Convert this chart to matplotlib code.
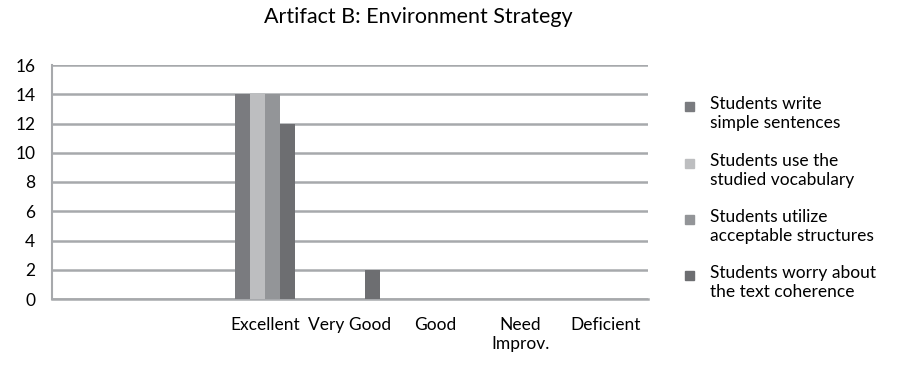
import matplotlib
matplotlib.use("Agg")
import matplotlib.pyplot as plt
from matplotlib.patches import Rectangle
import numpy as np

categories = ["", "", "Excellent", "Very Good", "Good", "Need\nImprov.", "Deficient"]
series_names = ["Students write\nsimple sentences",
                "Students use the\nstudied vocabulary",
                "Students utilize\nacceptable structures",
                "Students worry about\nthe text coherence"]
write_simple = [0, 0, 14, 0, 0, 0, 0]
use_vocab = [0, 0, 14, 0, 0, 0, 0]
utilize_struct = [0, 0, 14, 0, 0, 0, 0]
worry_coherence = [0, 0, 12, 2, 0, 0, 0]
yticks = [0, 2, 4, 6, 8, 10, 12, 14, 16]

colors = ["#7a7b7f", "#bdbec0", "#939598", "#6d6e71"]
plt.rcParams['font.family'] = ['Lato', 'DejaVu Sans']

W, H = 899, 374
fig = plt.figure(figsize=(8.99, 3.74), dpi=100)
ax = fig.add_axes([52/W, 1-299/H, 596/W, 234/H])

x = np.arange(len(categories))
bw = 0.176
data = [write_simple, use_vocab, utilize_struct, worry_coherence]
for i, (vals, c, n) in enumerate(zip(data, colors, series_names)):
    ax.bar(x + (i - 1.5) * bw, vals, width=bw, color=c, label=n, zorder=3)

ax.set_xlim(-0.5, len(categories) - 0.5)
ax.set_ylim(0, 16)
ax.set_yticks(yticks)
ax.set_yticklabels([str(t) for t in yticks], fontsize=12.5)
ax.set_xticks(x)
ax.set_xticklabels(categories, fontsize=12.5, linespacing=1.2)
ax.tick_params(axis='both', length=0)
ax.tick_params(axis='x', pad=13)
ax.tick_params(axis='y', pad=12)
ax.grid(axis='y', color='#a7a9ac', linewidth=1.8, zorder=0)
for s in ['top', 'right']:
    ax.spines[s].set_visible(False)
ax.spines['left'].set_color('#a7a9ac')
ax.spines['left'].set_linewidth(1.5)
ax.spines['bottom'].set_color('#a7a9ac')
ax.spines['bottom'].set_linewidth(1.8)

fig.text(418/W, 1-17/H, "Artifact B: Environment Strategy", fontsize=15.5,
         ha='center', va='center')

# legend (markers aligned with first text line, as in the reference)
entry_y = [106, 163, 219, 275]
for yc, c, n in zip(entry_y, colors, series_names):
    fig.add_artist(Rectangle((685/W, 1-(yc+5)/H), 9/W, 9/H,
                             transform=fig.transFigure, color=c))
    fig.text(710/W, 1-(yc-10)/H, n, fontsize=12.5, ha='left', va='top',
             linespacing=1.22)

fig.savefig("out.png", dpi=100)
